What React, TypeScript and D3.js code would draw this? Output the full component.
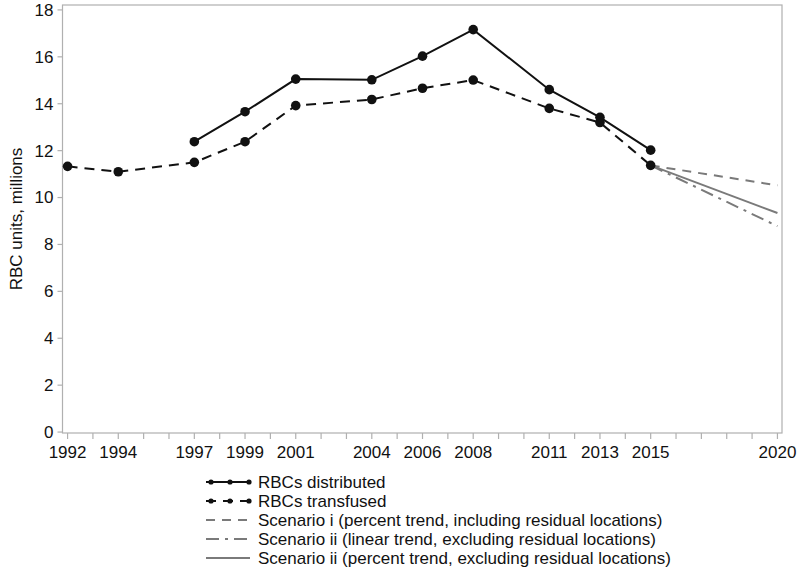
import React from 'react';
import * as d3 from 'd3';

// values (millions of RBC units)
const distYears = [1997, 1999, 2001, 2004, 2006, 2008, 2011, 2013, 2015];
const distributed = [12.38, 13.66, 15.05, 15.02, 16.03, 17.16, 14.6, 13.42, 12.02];

const transYears = [1992, 1994, 1997, 1999, 2001, 2004, 2006, 2008, 2011, 2013, 2015];
const transfused = [11.33, 11.1, 11.5, 12.38, 13.92, 14.18, 14.66, 15.01, 13.8, 13.2, 11.37];

const scenarioYears = [2015, 2020];
const scenarioI = [11.37, 10.52];
const scenarioIILinear = [11.37, 8.78];
const scenarioIIPercent = [11.37, 9.34];

const xLabelYears = [1992, 1994, 1997, 1999, 2001, 2004, 2006, 2008, 2011, 2013, 2015, 2020];
const yTicks = [0, 2, 4, 6, 8, 10, 12, 14, 16, 18];

const legendLabels = [
  'RBCs distributed',
  'RBCs transfused',
  'Scenario i (percent trend, including residual locations)',
  'Scenario ii (linear trend, excluding residual locations)',
  'Scenario ii (percent trend, excluding residual locations)',
];

const W = 800, H = 575;
const frame = { left: 62.5, right: 782, top: 5, bottom: 433 };
const font = '"Liberation Sans", Arial, sans-serif';
const grey = '#7a7a7a';
const axisGrey = '#b0b0b0';

export default function App() {
  const x = d3.scaleLinear().domain([1991.8, 2020.18]).range([frame.left, frame.right]);
  const y = d3.scaleLinear().domain([-0.04, 18.21]).range([frame.bottom, frame.top]);

  const line = d3.line<[number, number]>().x(d => x(d[0])).y(d => y(d[1]));
  const pts = (yrs: number[], vals: number[]) => yrs.map((yr, i) => [yr, vals[i]] as [number, number]);

  const allYears = d3.range(1992, 2021);

  const styles = [
    { stroke: '#111', dash: undefined, dots: true },
    { stroke: '#111', dash: '10,7', dots: true },
    { stroke: grey, dash: '9,7', dots: false },
    { stroke: grey, dash: '13,6,3,6', dots: false },
    { stroke: grey, dash: undefined, dots: false },
  ];

  return (
    <svg width={W} height={H} style={{ position: 'absolute', left: 0, top: 0, background: '#fff' }} fontFamily={font}>
      {/* frame */}
      <rect x={frame.left} y={frame.top} width={frame.right - frame.left} height={frame.bottom - frame.top}
        fill="none" stroke={axisGrey} strokeWidth={1.2} />

      {/* y axis */}
      {yTicks.map(t => (
        <g key={t}>
          <line x1={frame.left - 5} x2={frame.left} y1={y(t)} y2={y(t)} stroke={axisGrey} strokeWidth={1.2} />
          <text x={frame.left - 9} y={y(t)} dy="0.35em" textAnchor="end" fontSize={17} fill="#111">{t}</text>
        </g>
      ))}
      <text transform={`translate(22,${(frame.top + frame.bottom) / 2}) rotate(-90)`} textAnchor="middle"
        fontSize={17} fill="#111">RBC units, millions</text>

      {/* x axis */}
      {allYears.map(yr => (
        <line key={yr} x1={x(yr)} x2={x(yr)} y1={frame.bottom} y2={frame.bottom + 6} stroke={axisGrey} strokeWidth={1.2} />
      ))}
      {xLabelYears.map(yr => (
        <text key={yr} x={x(yr)} y={frame.bottom + 25} textAnchor="middle" fontSize={17} fill="#111">{yr}</text>
      ))}

      {/* scenarios */}
      <path d={line(pts(scenarioYears, scenarioI)) || ''} fill="none" stroke={grey} strokeWidth={2} strokeDasharray="9,7" />
      <path d={line(pts(scenarioYears, scenarioIILinear)) || ''} fill="none" stroke={grey} strokeWidth={2} strokeDasharray="13,6,3,6" />
      <path d={line(pts(scenarioYears, scenarioIIPercent)) || ''} fill="none" stroke={grey} strokeWidth={2} />

      {/* transfused */}
      <path d={line(pts(transYears, transfused)) || ''} fill="none" stroke="#111" strokeWidth={2} strokeDasharray="10,7" />
      {transYears.map((yr, i) => (
        <circle key={'t' + yr} cx={x(yr)} cy={y(transfused[i])} r={4.8} fill="#111" />
      ))}

      {/* distributed */}
      <path d={line(pts(distYears, distributed)) || ''} fill="none" stroke="#111" strokeWidth={2} />
      {distYears.map((yr, i) => (
        <circle key={'d' + yr} cx={x(yr)} cy={y(distributed[i])} r={4.8} fill="#111" />
      ))}

      {/* legend */}
      {legendLabels.map((lab, i) => {
        const ly = 482 + i * 19;
        const s = styles[i];
        return (
          <g key={lab}>
            <line x1={206} x2={250} y1={ly} y2={ly} stroke={s.stroke} strokeWidth={2} strokeDasharray={s.dash} />
            {s.dots && [211, 230, 249].map(cx => <circle key={cx} cx={cx} cy={ly} r={2.6} fill="#111" />)}
            <text x={258} y={ly} dy="0.35em" fontSize={17} fill="#111">{lab}</text>
          </g>
        );
      })}
    </svg>
  );
}
